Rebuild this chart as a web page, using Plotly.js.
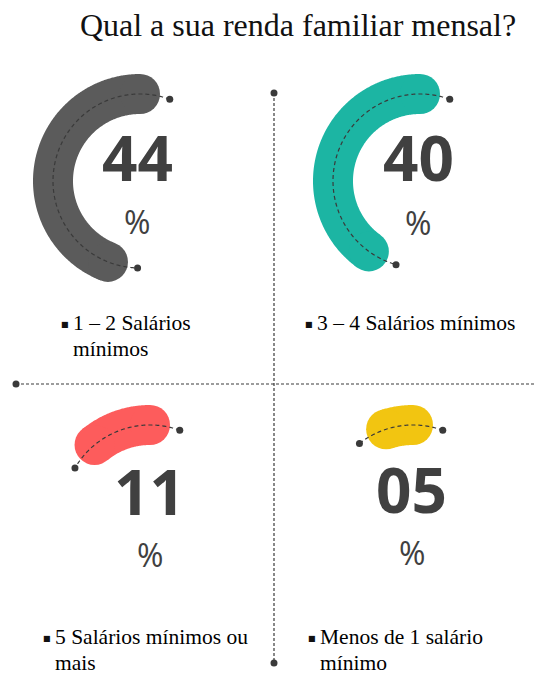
<!DOCTYPE html>
<html>
<head>
<meta charset="utf-8">
<script src="https://cdn.plot.ly/plotly-3.0.1.min.js"></script>
<style>html,body{margin:0;padding:0;background:#fff;}#chart{width:534px;height:675px;}</style>
</head>
<body>
<div id="chart"></div>
<script>
// ---- data ----
const chartTitle = 'Qual a sua renda familiar mensal?';
const categories = ['1 – 2 Salários<br>mínimos', '3 – 4 Salários mínimos', '5 Salários mínimos ou<br>mais', 'Menos de 1 salário<br>mínimo'];
const values = [44, 40, 11, 5];
const valueLabels = ['44', '40', '11', '05'];
const colors = ['#5b5b5b', '#1cb5a3', '#fd5c5c', '#f2c511'];

// ---- layout constants (positions in px) ----
const centers = [[140, 181], [420, 181], [150, 512], [413, 512]];
const R = 87;
const numPos = [[137, 157], [418, 157], [149, 491], [411, 489]];
const pctPos = [[137, 221], [418, 222], [150, 554], [412, 552]];
const labelPos = [[71, 323], [315, 323], [53, 637], [318, 637]];
const lineGap = 26;
const ink = '#404040';
const serif = '"Liberation Serif", "Times New Roman", Times, serif';

function arc(c, a0, a1) {
  const xs = [], ys = [];
  const n = Math.max(2, Math.round(Math.abs(a1 - a0) * 2));
  for (let i = 0; i <= n; i++) {
    const a = (a0 + (a1 - a0) * i / n) * Math.PI / 180;
    xs.push(c[0] + R * Math.cos(a));
    ys.push(c[1] - R * Math.sin(a));
  }
  return {xs, ys};
}

const traces = [];
const annotations = [];
values.forEach((v, i) => {
  const c = centers[i];
  const sweep = v * 3.6;
  const thick = arc(c, 90, 90 + sweep);
  traces.push({x: thick.xs, y: thick.ys, mode: 'lines', line: {color: colors[i], width: 40, simplify: false}, hoverinfo: 'skip', showlegend: false});
  traces.push({x: [thick.xs[0], thick.xs[thick.xs.length - 1]], y: [thick.ys[0], thick.ys[thick.ys.length - 1]], mode: 'markers',
    marker: {color: colors[i], size: 40, line: {width: 0}}, hoverinfo: 'skip', showlegend: false});
  const d = arc(c, 70, 90 + sweep + 20);
  traces.push({x: d.xs, y: d.ys, mode: 'lines', line: {color: '#3a3a3a', width: 1.2, dash: '4px,3px', simplify: false}, hoverinfo: 'skip', showlegend: false});
  traces.push({x: [d.xs[0], d.xs[d.xs.length - 1]], y: [d.ys[0], d.ys[d.ys.length - 1]], mode: 'markers',
    marker: {color: '#3a3a3a', size: 7}, hoverinfo: 'skip', showlegend: false});

  annotations.push({x: numPos[i][0], y: numPos[i][1], xref: 'x', yref: 'y', text: valueLabels[i], showarrow: false,
    font: {family: 'Open Sans', size: 62, weight: 700, color: ink}, xanchor: 'center', yanchor: 'middle'});
  annotations.push({x: pctPos[i][0], y: pctPos[i][1], xref: 'x', yref: 'y', text: '%', showarrow: false,
    font: {family: 'Open Sans', size: 32, color: ink}, xanchor: 'center', yanchor: 'middle'});

  const lines = categories[i].split('<br>');
  lines.forEach((ln, k) => {
    annotations.push({x: labelPos[i][0], y: labelPos[i][1] + k * lineGap, xref: 'x', yref: 'y', text: ln, showarrow: false,
      font: {family: serif, size: 21.5, color: '#000'}, xanchor: 'left', yanchor: 'middle'});
  });
  annotations.push({x: labelPos[i][0], y: labelPos[i][1] + 1, xref: 'x', yref: 'y', text: '■', showarrow: false,
    font: {family: 'DejaVu Sans', size: 8, color: '#111'}, xanchor: 'right', yanchor: 'middle'});
});

const shapes = [
  {type: 'line', xref: 'x', yref: 'y', x0: 274, x1: 274, y0: 93, y1: 663, line: {color: '#3a3a3a', width: 1.2, dash: '3px,2px'}},
  {type: 'line', xref: 'x', yref: 'y', x0: 16, x1: 534, y0: 384, y1: 384, line: {color: '#3a3a3a', width: 1.2, dash: '3px,2px'}},
  {type: 'circle', xref: 'x', yref: 'y', x0: 270.5, x1: 277.5, y0: 89.5, y1: 96.5, fillcolor: '#3a3a3a', line: {width: 0}},
  {type: 'circle', xref: 'x', yref: 'y', x0: 270.5, x1: 277.5, y0: 659.5, y1: 666.5, fillcolor: '#3a3a3a', line: {width: 0}},
  {type: 'circle', xref: 'x', yref: 'y', x0: 12.5, x1: 19.5, y0: 380.5, y1: 387.5, fillcolor: '#3a3a3a', line: {width: 0}}
];

const layout = {
  width: 534, height: 675,
  margin: {l: 0, r: 0, t: 0, b: 0},
  paper_bgcolor: '#fff', plot_bgcolor: '#fff',
  title: {text: chartTitle, font: {family: serif, size: 32, color: '#111'},
    x: 298 / 534, xanchor: 'center', y: 1 - 25 / 675, yanchor: 'middle', xref: 'paper', yref: 'container'},
  xaxis: {range: [0, 534], visible: false, fixedrange: true},
  yaxis: {range: [675, 0], visible: false, fixedrange: true},
  showlegend: false,
  annotations: annotations,
  shapes: shapes
};

Plotly.newPlot('chart', traces, layout, {staticPlot: true, displayModeBar: false});
</script>
</body>
</html>
